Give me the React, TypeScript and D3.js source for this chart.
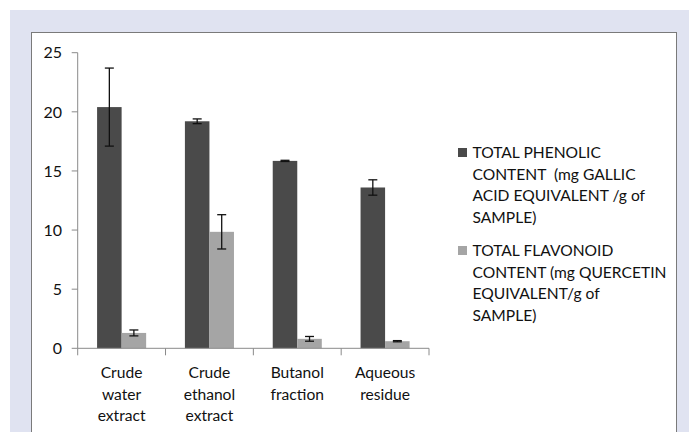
import { useEffect, useRef } from 'react'
import * as d3 from 'd3'

const categories = [
  ['Crude', 'water', 'extract'],
  ['Crude', 'ethanol', 'extract'],
  ['Butanol', 'fraction'],
  ['Aqueous', 'residue'],
]
const phenolic = [20.4, 19.2, 15.85, 13.6]
const phenolicErr = [3.3, 0.2, 0.05, 0.65]
const flavonoid = [1.3, 9.85, 0.8, 0.6]
const flavonoidErr = [0.25, 1.45, 0.2, 0.05]
const yTicks = [0, 5, 10, 15, 20, 25]
const legendLines = [
  ['TOTAL PHENOLIC', 'CONTENT  (mg GALLIC', 'ACID EQUIVALENT /g of', 'SAMPLE)'],
  ['TOTAL FLAVONOID', 'CONTENT (mg QUERCETIN', 'EQUIVALENT/g of', 'SAMPLE)'],
]
const seriesColors = ['#4a4a4a', '#a5a5a5']

export default function App() {
  const svgRef = useRef<SVGSVGElement>(null)

  useEffect(() => {
    if (!svgRef.current) return
    const width = 689
    const height = 432
    const font = 'Lato, "Open Sans", sans-serif'
    const fontSize = '15.6px'
    const textColor = '#111'

    const svg = d3.select(svgRef.current)
    svg.selectAll('*').remove()
    svg.attr('width', width).attr('height', height)

    svg.append('rect').attr('width', width).attr('height', height).attr('fill', '#ffffff')
    svg.append('rect').attr('x', 10).attr('y', 10).attr('width', width - 10).attr('height', height - 10).attr('fill', '#e0e3f1')
    svg.append('rect').attr('x', 31.5).attr('y', 32.5).attr('width', 645).attr('height', 420)
      .attr('fill', '#ffffff').attr('stroke', '#7a7a7a').attr('stroke-width', 1)

    const keys = categories.map(c => c.join(' '))
    const x = d3.scaleBand<string>().domain(keys).range([77.7, 429]).padding(0)
    const xSub = d3.scaleBand<number>().domain([0, 1]).range([0, x.bandwidth()]).paddingInner(0).paddingOuter(0.79)
    const y = d3.scaleLinear().domain([0, 25]).range([348.3, 52.7])

    const g = svg.append('g')

    // Y axis
    g.append('line').attr('x1', 77.7).attr('x2', 77.7).attr('y1', y(25)).attr('y2', y(0))
      .attr('stroke', '#8a8a8a').attr('stroke-width', 1)
    yTicks.forEach(t => {
      g.append('line').attr('x1', 71.7).attr('x2', 77.7).attr('y1', y(t)).attr('y2', y(t))
        .attr('stroke', '#8a8a8a').attr('stroke-width', 1)
      g.append('text').attr('x', 62).attr('y', y(t)).attr('dy', '0.36em')
        .attr('text-anchor', 'end').attr('font-family', font).attr('font-size', '16px')
        .attr('fill', textColor).text(t)
    })

    // Bars + error bars
    const series = [
      { values: phenolic, errs: phenolicErr },
      { values: flavonoid, errs: flavonoidErr },
    ]
    series.forEach((s, si) => {
      keys.forEach((k, i) => {
        const bx = (x(k) ?? 0) + (xSub(si) ?? 0)
        const bw = xSub.bandwidth()
        g.append('rect').attr('x', bx).attr('y', y(s.values[i]))
          .attr('width', bw).attr('height', y(0) - y(s.values[i]))
          .attr('fill', seriesColors[si])
        const cx = bx + bw / 2
        const hi = y(s.values[i] + s.errs[i])
        const lo = y(s.values[i] - s.errs[i])
        g.append('line').attr('x1', cx).attr('x2', cx).attr('y1', hi).attr('y2', lo)
          .attr('stroke', '#111').attr('stroke-width', 1.3)
        ;[hi, lo].forEach(v => {
          g.append('line').attr('x1', cx - 4.5).attr('x2', cx + 4.5).attr('y1', v).attr('y2', v)
            .attr('stroke', '#111').attr('stroke-width', 1.3)
        })
      })
    })

    // X axis
    g.append('line').attr('x1', 77.7).attr('x2', 429).attr('y1', y(0)).attr('y2', y(0))
      .attr('stroke', '#8a8a8a').attr('stroke-width', 1)
    const edges = [...keys.map(k => x(k) ?? 0), 429]
    edges.forEach(e => {
      g.append('line').attr('x1', e).attr('x2', e).attr('y1', y(0)).attr('y2', y(0) + 7)
        .attr('stroke', '#8a8a8a').attr('stroke-width', 1)
    })
    categories.forEach((c, i) => {
      const cx = (x(keys[i]) ?? 0) + x.bandwidth() / 2
      c.forEach((line, li) => {
        g.append('text').attr('x', cx).attr('y', 378 + li * 21.5)
          .attr('text-anchor', 'middle').attr('font-family', font).attr('font-size', fontSize)
          .attr('fill', textColor).text(line)
      })
    })

    // Legend
    const legendTops = [158, 256]
    legendLines.forEach((lines, li) => {
      g.append('rect').attr('x', 458).attr('y', legendTops[li] - 10).attr('width', 9).attr('height', 9)
        .attr('fill', seriesColors[li])
      lines.forEach((line, j) => {
        g.append('text').attr('x', 472.5).attr('y', legendTops[li] + j * 21.5)
          .attr('font-family', font).attr('font-size', fontSize)
          .attr('fill', textColor).attr('xml:space', 'preserve').style('white-space', 'pre').text(line)
      })
    })
  }, [])

  return (
    <div style={{ position: 'absolute', left: 0, top: 0 }}>
      <svg ref={svgRef} style={{ display: 'block' }} />
    </div>
  )
}
